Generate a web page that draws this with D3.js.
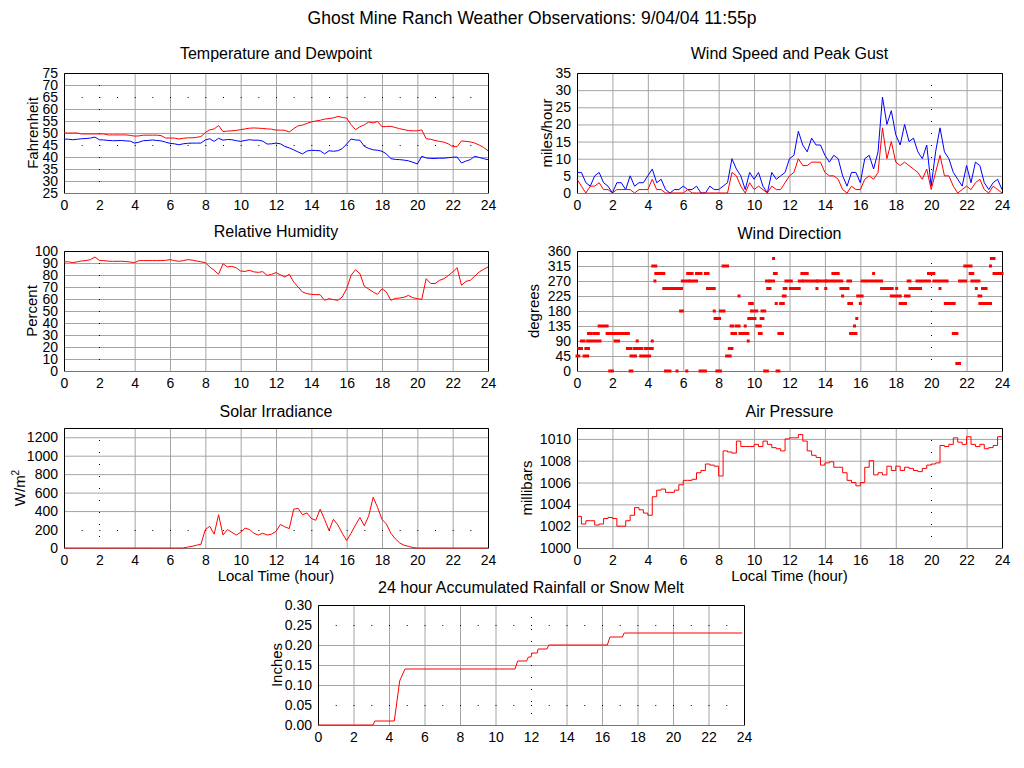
<!DOCTYPE html>
<html>
<head>
<meta charset="utf-8">
<script src="https://cdn.jsdelivr.net/npm/d3@7"></script>
<style>
body { margin: 0; background: #fff; }
text { font-family: "Liberation Sans", Arial, Helvetica, sans-serif; fill: #000; }
</style>
</head>
<body>
<svg id="chart" width="1024" height="768"></svg>
<script>
// sample times, every 15 minutes through the day
var hours = d3.range(0, 24.001, 0.25)

var xTicks = [0, 2, 4, 6, 8, 10, 12, 14, 16, 18, 20, 22, 24]
var tempTicks = [25, 30, 35, 40, 45, 50, 55, 60, 65, 70, 75]
var windTicks = [0, 5, 10, 15, 20, 25, 30, 35]
var rhTicks = [0, 10, 20, 30, 40, 50, 60, 70, 80, 90, 100]
var dirTicks = [0, 45, 90, 135, 180, 225, 270, 315, 360]
var solarTicks = [0, 200, 400, 600, 800, 1000, 1200]
var presTicks = [1000, 1002, 1004, 1006, 1008, 1010]
var rainTicks = [0, 0.05, 0.10, 0.15, 0.20, 0.25, 0.30]

var temperature = [50,50,50,50,49.6,49.6,49.6,49.6,49.6,49.6,
  49.2,49.2,49.2,49.2,49.2,49.0,48.7,48.8,49.1,49.1,
  49.1,49.1,48.9,47.9,47.9,47.9,47.5,47.8,48,48,
  48.2,48.5,50.2,51.3,51.7,53.1,50.6,50.8,50.9,51.1,
  51.4,51.7,52,52.1,52,51.9,51.7,51.6,51.2,51.2,
  51.1,50.4,51.8,53,53.3,54,54.6,55,55.3,55.8,
  56,56.3,56.9,56.5,56.2,53.5,51.4,52.6,53.4,54.6,
  54.2,54.8,52.6,52.7,52.8,52.3,51.8,51.4,51,50.9,
  50.9,51.3,47.6,47.4,46.9,46.5,46.2,45.5,44.3,44.3,
  46.7,46.5,46.3,45.8,45,44,42.6]

var dewpoint = [47.5,47.4,47.2,47.4,47.6,47.7,47.9,48.3,47.2,47.1,
  46.9,46.8,46.8,46.9,46.7,46.6,45.8,46.2,46.8,46.9,
  47.1,46.9,46.7,46.2,45.7,45.5,45.1,45.5,45.7,45.8,
  45.8,45.8,47.1,47.6,46.5,47.8,47,47.3,47.2,46.8,
  46.5,46.9,47.2,47,47,46.6,45.4,45.5,45.8,45.5,
  44.4,43.8,43,42.1,41.3,42.5,42.8,42.7,42.6,41.3,
  42.6,42.4,42.6,43.5,45.4,47.5,47.1,47,44.4,43.6,
  43,42.8,42.4,41.3,39.3,39,38.9,38.7,38.4,37.8,
  37.1,40.3,39.6,39.4,39.4,39.5,39.5,39.7,39.9,40,
  37.5,38.3,38.9,40.3,39.8,39.3,38.9]

var humidity = [91,91,90.3,91,91.7,92,92.8,95,92.2,92,
  91.5,91.4,91.4,91.5,91.2,90.8,90.3,92,92,92,
  92,92,92,92.2,92.8,92,91.4,92,92.8,92.4,
  91.7,91,90.3,86.7,83.9,80.6,89.4,86.7,87.2,86,
  83.3,83,83.9,82.6,82.2,82.8,79.7,80.5,82,80.2,
  78.3,80.6,74.2,70,65.8,64.5,63.9,63.6,63.6,58.9,
  60.3,59.5,58.9,61.7,68.6,79.7,84.4,81.1,70.6,68.3,
  65.8,63.9,68.6,65.8,58.9,60.5,60.8,61.5,63,61,
  60.3,59.7,76.9,73,72.8,75.5,76.9,79.5,82.5,86.1,
  71.4,74.7,75.6,79,82.5,84.7,86.7]

var gust = [6,6,3,2,5,6,3,2,0,3,
  3,1,5,2,3,3,5,7,3,4,
  1,0,1,1,2,1,1,2,0,0,
  2,1,1,2,3,10,7,5,1,6,
  4,6,2,0,6,4,5,6,10,11,
  18,14,12,16,14,14,11,9,11,10,
  5,2,6,6,3,10,11,7,12,28,
  20,24,17,14,20,15,16,12,10,14,
  2,12,19,12,10,6,4,2,8,3,
  9,8,3,1,3,4,1]

var windSpeed = [4,2,0,2,2,3,1,1,0,1,
  1,1,1,0,1,1,1,4,1,1,
  0,0,0,0,0,1,0,0,0,0,
  0,0,0,0,0,6,5,2,0,3,
  1,2,1,0,2,1,1,3,5,6,
  10,8,8,9,9,9,6,5,5,4,
  1,0,2,1,1,4,5,4,6,19,
  10,15,9,8,9,8,7,6,4,7,
  1,6,11,5,5,2,0,1,2,1,
  3,4,1,0,2,1,0]

var solar = [0,0,0,0,0,0,0,0,0,0,
  0,0,0,0,0,0,0,0,0,0,
  0,0,0,0,0,0,0,0,
  10,18,30,40,200,235,150,360,140,200,
  170,140,170,215,200,160,140,160,140,150,
  180,255,230,210,420,430,360,380,320,300,
  420,310,190,310,250,160,80,160,250,330,
  240,350,550,440,310,260,160,100,55,30,
  18,5,
  0,0,0,0,0,0,0,0,0,0,0,0,0,0,0,0,0]

var pressure = [1002.9,1002.2,1002.5,1002.5,1002.1,1002.2,1002.7,1002.8,1002.7,1002.0,
  1002.0,1002.5,1003.0,1003.7,1003.5,1003.2,1003.0,1004.7,1005.3,1005.4,
  1005.1,1005.1,1005.3,1005.8,1006.2,1006.2,1006.3,1006.9,1007.1,1007.7,
  1007.6,1007.5,1006.6,1008.9,1008.8,1008.7,1009.8,1009.3,1009.3,1009.3,
  1009.5,1009.3,1009.8,1009.5,1009.2,1009.1,1008.9,1010.0,1010.1,1010.1,
  1010.4,1009.8,1008.9,1008.5,1008.3,1007.6,1007.8,1007.9,1007.4,1007.4,
  1006.9,1006.2,1006.0,1005.7,1006.0,1007.4,1008.0,1006.7,1006.9,1006.7,
  1007.5,1007.1,1007.5,1007.1,1007.4,1007.3,1007.1,1007.0,1007.3,1007.6,
  1007.7,1007.8,1009.4,1009.3,1009.5,1010.1,1009.7,1009.5,1010.2,1009.5,
  1009.3,1009.5,1009.1,1009.2,1009.4,1010.2,1010.2]

// wind direction: runs of equal readings (start hour, end hour, degrees)
var dirStart = [0,0.1,0.25,0.4,0.5,0.65,0.6,0.95,1.25,1.7,
  1.85,1.95,2.15,2.35,2.85,3.0,3.05,3.25,3.4,3.6,
  3.85,4.1,4.25,4.28,4.4,4.45,4.9,5.0,5.2,5.65,
  5.85,5.95,6.2,6.25,6.4,6.75,6.95,7.25,7.37,7.75,
  7.8,7.9,8.1,8.25,8.45,8.6,8.7,8.75,9.0,9.15,
  9.2,9.5,9.67,9.7,9.75,9.85,9.95,10.15,10.3,10.4,
  10.45,10.6,10.7,10.77,10.9,11.1,11.15,11.25,11.3,11.4,
  11.5,11.65,11.7,11.8,12.05,12.55,12.7,12.8,13.0,13.55,
  13.6,14.05,14.1,14.45,14.6,14.9,15.0,15.3,15.35,15.45,
  15.67,15.8,15.85,16.0,16.1,16.75,17.2,17.75,18.05,18.25,
  18.55,18.7,18.8,19.2,19.85,20.15,20.5,20.8,21.25,21.45,
  21.6,21.9,22.2,22.3,22.55,22.7,22.75,22.9,23.05,23.35,
  23.4,23.55]
var dirEnd = [0.1,0.25,0.4,0.6,0.65,0.8,1.3,1.2,1.7,1.9,
  2.0,2.2,2.35,2.9,3.05,3.1,3.3,3.65,3.4,4.1,
  3.95,4.25,4.25,4.45,4.4,4.9,5.05,5.25,5.9,5.65,
  5.95,6.3,6.2,6.5,6.75,7.0,7.25,7.4,7.75,7.75,
  8.05,8.1,8.3,8.5,8.65,8.75,8.8,8.95,9.15,9.15,
  9.65,9.5,9.67,9.8,9.9,10.15,10.05,10.35,10.4,10.5,
  10.6,10.75,10.8,10.9,11.1,11.1,11.25,11.25,11.4,11.6,
  11.65,11.75,11.8,12.1,12.55,12.7,12.85,13.55,13.0,13.55,
  14.05,14.05,14.45,14.75,14.95,15.3,15.0,15.45,15.5,15.75,
  15.67,15.8,16.1,16.0,17.2,16.75,17.8,18.25,18.05,18.55,
  18.75,18.8,19.4,19.9,20.15,20.9,20.5,21.3,21.45,21.6,
  21.95,22.25,22.35,22.7,22.55,22.8,22.9,23.1,23.35,23.35,
  23.55,24.0]
var dirDeg = [45,67.5,90,45,67.5,112.5,90,112.5,135,112.5,
  0,112.5,90,112.5,67.5,0,45,67.5,90,45,
  67.5,67.5,90,315,270,292.5,247.5,0,247.5,0,
  180,270,0,292.5,270,292.5,0,292.5,247.5,180,
  157.5,0,180,315,45,67.5,135,112.5,135,225,
  112.5,135,90,157.5,202.5,180,157.5,135,112.5,157.5,
  180,0,270,247.5,270,337.5,292.5,202.5,0,112.5,
  202.5,225,247.5,270,247.5,270,292.5,270,292.5,247.5,
  270,247.5,270,292.5,270,247.5,225,270,202.5,112.5,
  135,157.5,225,202.5,270,292.5,247.5,225,247.5,202.5,
  225,270,247.5,270,292.5,270,247.5,202.5,112.5,22.5,
  270,315,292.5,270,247.5,225,202.5,247.5,202.5,315,
  337.5,292.5]

var rainHour = [0,3.1,3.2,4.3,4.45,4.6,4.7,4.9,11.1,11.25,11.75,11.85,12.0,12.05,12.35,12.4,12.9,13.0,16.3,16.45,17.15,17.25,23.9]
var rainInch = [0,0,0.01,0.01,0.06,0.11,0.12,0.14,0.14,0.16,0.16,0.17,0.17,0.18,0.18,0.19,0.19,0.20,0.20,0.22,0.22,0.23,0.23]

var gridCol = '#a4a4a4'
var font = '"Liberation Sans", Arial, Helvetica, sans-serif'
var svg = d3.select('#chart')

svg.append('text')
    .attr('x', 532).attr('y', 24)
    .attr('text-anchor', 'middle')
    .style('font-size', '17.5px')
    .text('Ghost Mine Ranch Weather Observations: 9/04/04 11:55p')

function panel(o){
  var x = d3.scaleLinear().domain([0, 24]).range([o.l, o.r])
  var y = d3.scaleLinear().domain(o.dom).range([o.b, o.t])
  var w = o.r - o.l, h = o.b - o.t
  var dotX = o.dotX || [], dotY = o.dotY || []
  var g = svg.append('g')

  // gray grid, leaving out the lines that are drawn dotted
  g.append('g')
      .attr('transform', 'translate(0,' + o.b + ')')
      .call(d3.axisBottom(x).tickValues(xTicks.filter(function(v){ return dotX.indexOf(v) < 0 }))
        .tickSize(-h).tickFormat(''))
      .call(function(s){ s.select('.domain').remove(); s.selectAll('line').attr('stroke', gridCol) })
  g.append('g')
      .attr('transform', 'translate(' + o.l + ',0)')
      .call(d3.axisLeft(y).tickValues(o.ticks.filter(function(v){ return dotY.indexOf(v) < 0 }))
        .tickSize(-w).tickFormat(''))
      .call(function(s){ s.select('.domain').remove(); s.selectAll('line').attr('stroke', gridCol) })

  var hourStep = x(1) - x(0)
  dotX.forEach(function(v){
    g.append('line')
        .attr('x1', Math.round(x(v)) + 0.5).attr('x2', Math.round(x(v)) + 0.5)
        .attr('y1', o.t).attr('y2', o.b)
        .attr('stroke', '#000').attr('stroke-dasharray', '1 11')
  })
  dotY.forEach(function(v){
    g.append('line')
        .attr('x1', o.l).attr('x2', o.r)
        .attr('y1', Math.round(y(v)) + 0.5).attr('y2', Math.round(y(v)) + 0.5)
        .attr('stroke', '#000').attr('stroke-dasharray', '1 ' + (hourStep - 1))
  })

  // frame
  g.append('path')
      .attr('d', 'M' + (o.l + 0.5) + ',' + (o.b + 0.5) + 'V' + (o.t + 0.5) + 'H' + (o.r + 0.5) + 'V' + (o.b + 0.5))
      .attr('fill', 'none').attr('stroke', '#000')
  g.append('line')
      .attr('x1', o.l).attr('x2', o.r + 1)
      .attr('y1', o.b + 0.5).attr('y2', o.b + 0.5)
      .attr('stroke', '#777')

  // tick labels
  g.append('g')
      .attr('transform', 'translate(0,' + o.b + ')')
      .call(d3.axisBottom(x).tickValues(xTicks).tickSize(0).tickPadding(7))
      .attr('font-size', 14).attr('font-family', font)
      .call(function(s){ s.select('.domain').remove(); s.selectAll('text').attr('fill', '#000') })
  g.append('g')
      .attr('transform', 'translate(' + o.l + ',0)')
      .call(d3.axisLeft(y).tickValues(o.ticks).tickSize(0).tickPadding(6).tickFormat(o.fmt || d3.format('d')))
      .attr('font-size', 14).attr('font-family', font)
      .call(function(s){ s.select('.domain').remove(); s.selectAll('text').attr('fill', '#000') })

  g.append('text')
      .attr('x', (o.l + o.r) / 2).attr('y', o.titleY)
      .attr('text-anchor', 'middle')
      .style('font-size', '16px')
      .text(o.title)

  var yl = g.append('text')
      .attr('transform', 'translate(' + o.ylabX + ',' + ((o.t + o.b) / 2) + ') rotate(-90)')
      .attr('text-anchor', 'middle')
      .attr('dy', '0.35em')
      .style('font-size', '15px')
      .text(o.ylab)
  if (o.ylabSup) {
    yl.append('tspan').attr('dy', '-0.6em').style('font-size', '10px').text(o.ylabSup)
  }

  if (o.xlab) {
    g.append('text')
        .attr('x', (o.l + o.r) / 2).attr('y', 581)
        .attr('text-anchor', 'middle')
        .style('font-size', '15px')
        .text(o.xlab)
  }

  return {x: x, y: y, g: g}
}

function drawLine(p, values, color, curve){
  p.g.append('path')
      .datum(values)
      .attr('fill', 'none')
      .attr('stroke', color)
      .attr('stroke-width', 1)
      .attr('d', d3.line()
        .x(function(d, i){ return p.x(hours[i]) })
        .y(function(d){ return p.y(d) })
        .curve(curve || d3.curveLinear))
}

var pTemp = panel({l: 64, r: 488, t: 73, b: 193, dom: [25, 75], ticks: tempTicks,
  dotX: [2], dotY: [65, 45], title: 'Temperature and Dewpoint', titleY: 59,
  ylab: 'Fahrenheit', ylabX: 33})
drawLine(pTemp, temperature, '#ff0000')
drawLine(pTemp, dewpoint, '#0000ff')

var pWind = panel({l: 577, r: 1002, t: 73, b: 193, dom: [0, 35], ticks: windTicks,
  dotX: [20], title: 'Wind Speed and Peak Gust', titleY: 59,
  ylab: 'miles/hour', ylabX: 547})
drawLine(pWind, gust, '#0000ff')
drawLine(pWind, windSpeed, '#ff0000')

var pRh = panel({l: 64, r: 488, t: 251, b: 371, dom: [0, 100], ticks: rhTicks,
  dotX: [2], title: 'Relative Humidity', titleY: 237,
  ylab: 'Percent', ylabX: 32})
drawLine(pRh, humidity, '#ff0000')

var pDir = panel({l: 577, r: 1002, t: 251, b: 371, dom: [0, 360], ticks: dirTicks,
  dotX: [20], title: 'Wind Direction', titleY: 239,
  ylab: 'degrees', ylabX: 534})
pDir.g.selectAll('rect.dir')
    .data(dirDeg)
    .enter().append('rect')
      .attr('class', 'dir')
      .attr('x', function(d, i){ return pDir.x(dirStart[i]) - 1.5 })
      .attr('width', function(d, i){ return pDir.x(dirEnd[i]) - pDir.x(dirStart[i]) + 3 })
      .attr('y', function(d){ return pDir.y(d) - 1.5 })
      .attr('height', 3)
      .attr('fill', '#ff0000')

var pSolar = panel({l: 64, r: 488, t: 428, b: 548, dom: [0, 1300], ticks: solarTicks,
  dotX: [2], dotY: [200], title: 'Solar Irradiance', titleY: 417,
  ylab: 'W/m', ylabSup: '2', ylabX: 20, xlab: 'Local Time (hour)'})
drawLine(pSolar, solar, '#ff0000')

var pPres = panel({l: 577, r: 1002, t: 428, b: 548, dom: [1000, 1011], ticks: presTicks,
  dotX: [20], title: 'Air Pressure', titleY: 417,
  ylab: 'millibars', ylabX: 527, xlab: 'Local Time (hour)'})
drawLine(pPres, pressure, '#ff0000', d3.curveStepAfter)

var pRain = panel({l: 318, r: 744, t: 605, b: 725, dom: [0, 0.3], ticks: rainTicks,
  dotX: [12], dotY: [0.05, 0.25], title: '24 hour Accumulated Rainfall or Snow Melt', titleY: 593,
  ylab: 'Inches', ylabX: 277, fmt: d3.format('.2f')})
pRain.g.append('path')
    .datum(rainInch)
    .attr('fill', 'none')
    .attr('stroke', '#ff0000')
    .attr('d', d3.line()
      .x(function(d, i){ return pRain.x(rainHour[i]) })
      .y(function(d){ return pRain.y(d) }))
</script>
</body>
</html>
